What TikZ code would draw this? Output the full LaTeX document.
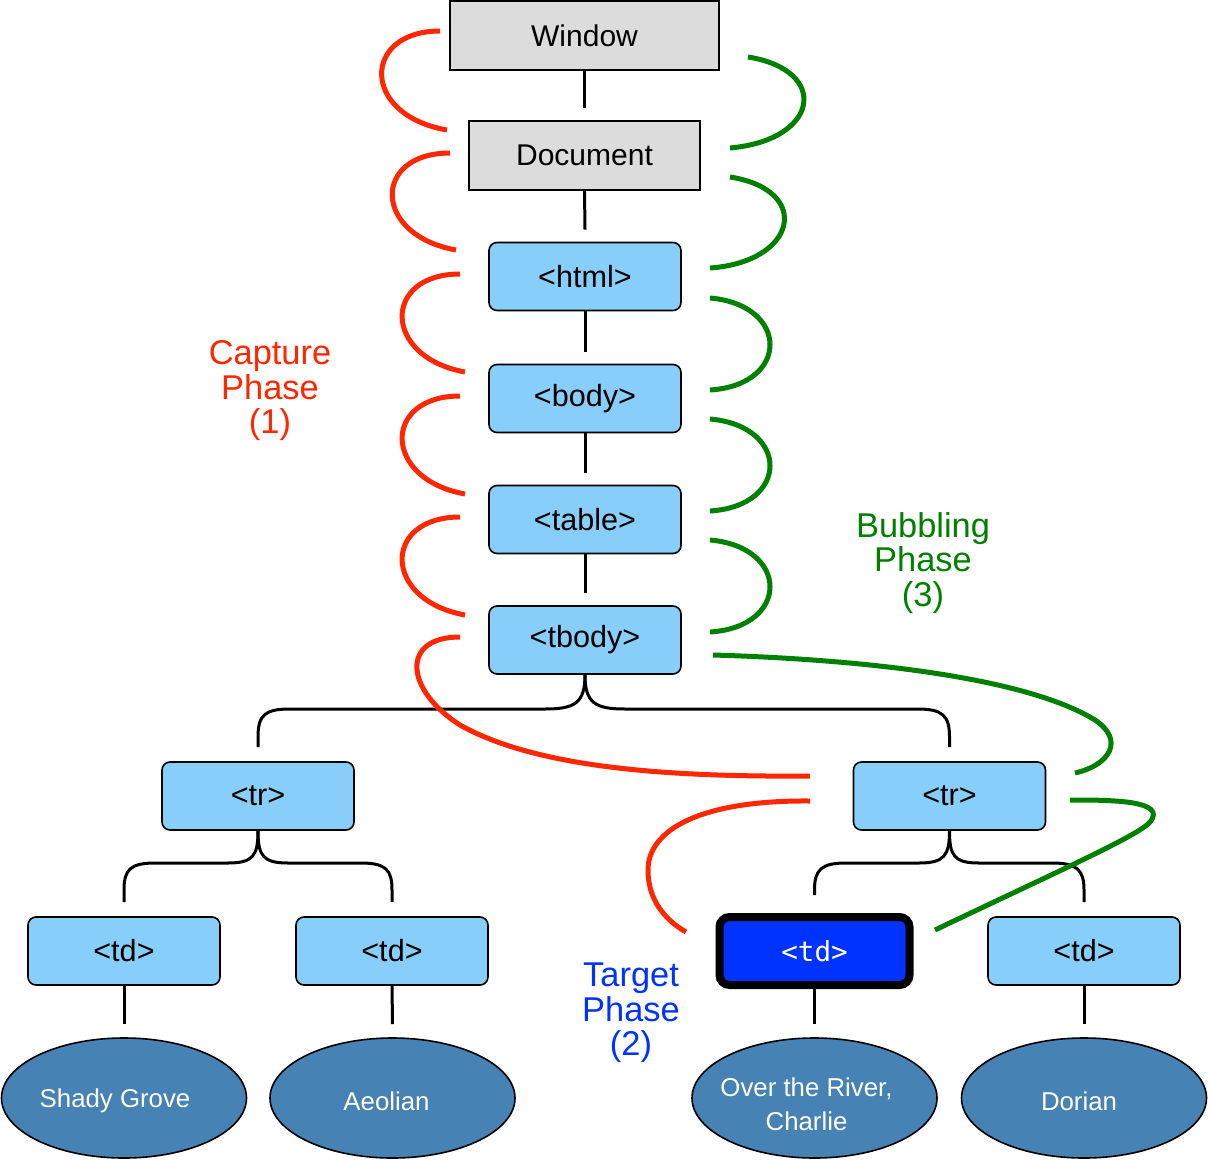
\documentclass[tikz,border=0pt]{standalone}
\usepackage{fontspec}
\setmainfont{Liberation Sans}
\newfontfamily\tdmono{DejaVu Sans Mono}
\usetikzlibrary{shapes.geometric}
\definecolor{capred}{RGB}{255,38,0}
\definecolor{bubgreen}{RGB}{0,128,0}
\definecolor{tgtblue}{RGB}{0,51,255}
\definecolor{boxgray}{RGB}{220,220,220}
\definecolor{boxblue}{RGB}{135,206,250}
\definecolor{leafblue}{RGB}{70,130,180}
\begin{document}
\begin{tikzpicture}[x=0.5pt,y=-0.5pt,
 graybox/.style={draw=black, line width=0.8pt, fill=boxgray, inner sep=0pt, font=\fontsize{15}{18}\selectfont},
 elbox/.style={draw=black, line width=0.8pt, fill=boxblue, rounded corners=4pt, minimum width=96pt, minimum height=34pt, inner sep=0pt, font=\fontsize{15.3}{18}\selectfont},
 target/.style={draw=black, line width=4pt, fill=tgtblue, rounded corners=5pt, minimum width=95pt, minimum height=34pt, inner sep=0pt, text=white, font=\tdmono\fontsize{13.8}{16}\selectfont},
 leaf/.style={ellipse, draw=black, line width=0.8pt, fill=leafblue, minimum width=122.5pt, minimum height=60pt, inner sep=0pt},
 leaftext/.style={text=white, align=center, inner sep=0pt, font=\fontsize{12.9}{17}\selectfont},
 conn/.style={line width=1.5pt, draw=black},
 capture/.style={line width=2.5pt, draw=capred},
 bubble/.style={line width=2.5pt, draw=bubgreen},
 phase/.style={align=center, inner sep=0pt, font=\fontsize{17.2}{17.25}\selectfont}]
\useasboundingbox (0,0) rectangle (1208,1160);

% element nodes
\node[graybox, minimum width=134.5pt, minimum height=34.5pt] (window) at (584.5,35.5) {Window};
\node[graybox, minimum width=115.5pt, minimum height=34.5pt] (document) at (584.5,155.5) {Document};
\node[elbox] (html) at (585,276.5) {<html>};
\node[elbox] (body) at (585,398.5) {<body>};
\node[elbox] (table) at (585,519.5) {<table>};
\node[elbox] (tbody) at (585,640) {<tbody>};
\node[elbox] (trL) at (258,796) {<tr>};
\node[elbox] (trR) at (949.5,796) {<tr>};
\node[elbox] (tdA) at (124,951) {<td>};
\node[elbox] (tdB) at (392,951) {<td>};
\node[target] (tdC) at (814.5,951) {<td>\hspace{4pt}};
\node[elbox] (tdD) at (1084,951) {<td>};
\node[leaf, label={[leaftext, xshift=-4.5pt, yshift=-1.5pt]center:Shady Grove}] (leafA) at (124,1098) {};
\node[leaf, label={[leaftext, xshift=-3pt, yshift=-1.5pt]center:Aeolian}] (leafB) at (392.5,1098) {};
\node[leaf, label={[leaftext, xshift=-4pt, yshift=-3pt]center:Over the River,\hspace{4pt}\\Charlie}] (leafC) at (814.5,1098) {};
\node[leaf, label={[leaftext, xshift=-2.5pt, yshift=-1.5pt]center:Dorian}] (leafD) at (1084,1098) {};

% phase labels
\node[phase, text=capred] (caplabel) at (270,391) {Capture\\Phase\\(1)};
\node[phase, text=bubgreen] (bublabel) at (923,563) {Bubbling\\Phase\\(3)};
\node[phase, text=tgtblue] (tgtlabel) at (631,1013) {Target\\Phase\\(2)};

% tree connectors
\draw[conn] (window.south) -- ([yshift=6pt]document.north);
\draw[conn] (document.south) -- ([yshift=6pt]html.north);
\draw[conn] (html.south) -- ([yshift=6pt]body.north);
\draw[conn] (body.south) -- ([yshift=6pt]table.north);
\draw[conn] (table.south) -- ([yshift=6pt]tbody.north);
\draw[conn] (tbody.south) .. controls +(0,28) and +(30,0) .. (545,709) -- (290,709)
  .. controls +(-25,0) and +(0,-22) .. (258,737) -- ([yshift=7pt]trL.north);
\draw[conn] (tbody.south) .. controls +(0,28) and +(-30,0) .. (625,709) -- (917,709)
  .. controls +(25,0) and +(0,-22) .. (949.5,737) -- ([yshift=7pt]trR.north);
\draw[conn] (trL.south) .. controls +(0,25) and +(25,0) .. (228,863) -- (155,863)
  .. controls +(-25,0) and +(0,-20) .. (124,890) -- ([yshift=7pt]tdA.north);
\draw[conn] (trL.south) .. controls +(0,25) and +(-25,0) .. (288,863) -- (361,863)
  .. controls +(25,0) and +(0,-20) .. (392,890) -- ([yshift=7pt]tdB.north);
\draw[conn] (trR.south) .. controls +(0,25) and +(25,0) .. (919,863) -- (846,863)
  .. controls +(-25,0) and +(0,-20) .. (814.5,890) -- ([yshift=9pt]tdC.north);
\draw[conn] (trR.south) .. controls +(0,25) and +(-25,0) .. (979,863) -- (1052,863)
  .. controls +(25,0) and +(0,-20) .. (1084,890) -- ([yshift=7pt]tdD.north);
\draw[conn] (tdA.south) -- ([yshift=6.5pt]leafA.north);
\draw[conn] (tdB.south) -- ([yshift=6.5pt]leafB.north);
\draw[conn] (tdC.south) -- ([yshift=6.5pt]leafC.north);
\draw[conn] (tdD.south) -- ([yshift=6.5pt]leafD.north);

% capture phase (red)
\draw[capture] (440,31) .. controls (362,31) and (360,115) .. (447,130);
\draw[capture] (450,153) .. controls (372,153) and (372,235) .. (456,250);
\draw[capture] (460,274) .. controls (382,274) and (382,357) .. (465,372);
\draw[capture] (460,396) .. controls (382,396) and (382,479) .. (465,494);
\draw[capture] (460,517) .. controls (382,517) and (382,600) .. (465,615);
\draw[capture] (460,637) .. controls (400,637) and (405,690) .. (460,725)
  .. controls (540,770) and (680,777) .. (810,776);
\draw[capture] (810,801) .. controls (700,800) and (648,830) .. (648,870)
  .. controls (648,900) and (665,920) .. (686,932);

% bubbling phase (green)
\draw[bubble] (730,148) .. controls (820,140) and (830,70) .. (748,57);
\draw[bubble] (710,268) .. controls (797,262) and (813,190) .. (730,177);
\draw[bubble] (710,390) .. controls (790,385) and (790,305) .. (710,298);
\draw[bubble] (710,511) .. controls (790,506) and (790,426) .. (710,419);
\draw[bubble] (710,632) .. controls (790,627) and (790,547) .. (710,540);
\draw[bubble] (1075,773) .. controls (1110,765) and (1125,740) .. (1095,720)
  .. controls (1030,680) and (880,660) .. (713,655);
\draw[bubble] (935,930) .. controls (1050,875) and (1140,835) .. (1150,822)
  .. controls (1168,800) and (1110,800) .. (1070,800);
\end{tikzpicture}
\end{document}
